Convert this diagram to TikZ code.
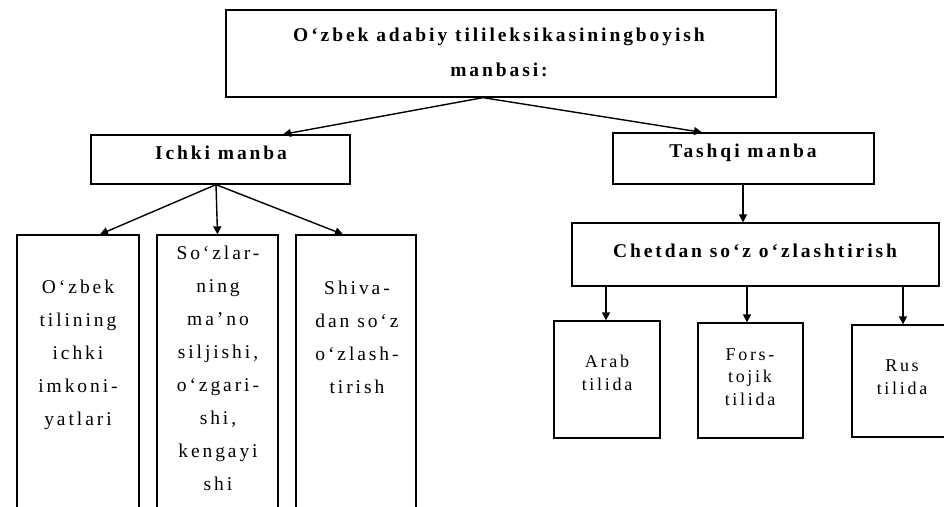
\documentclass[tikz,border=0pt]{standalone}
\usepackage{fontspec}
\setmainfont{Liberation Serif}[LetterSpace=15]
\usetikzlibrary{arrows.meta}
\begin{document}
\begin{tikzpicture}[x=1pt,y=-1pt,
  box/.style={draw,line width=1.3pt,inner sep=0pt},
  conn/.style={line width=1.4pt,-{Triangle[length=8pt,width=8pt]}},
  bigtxt/.style={anchor=base,align=center,inner sep=0pt,font=\fontsize{19.5}{35}\selectfont\bfseries},
  midtxt/.style={anchor=base,align=center,inner sep=0pt,font=\fontsize{19.5}{33}\selectfont},
  smalltxt/.style={anchor=base,align=center,inner sep=0pt,font=\fontsize{18}{22.5}\selectfont}]
\useasboundingbox (0,0) rectangle (944,506);
\clip (0,0) rectangle (944,506);
% boxes
\node[box,minimum width=550pt,minimum height=87pt] (top) at (501,53.5) {};
\node[box,minimum width=259pt,minimum height=49pt] (ichki) at (220.5,159.5) {};
\node[box,minimum width=261pt,minimum height=51pt] (tashqi) at (743.5,158.5) {};
\node[box,minimum width=367pt,minimum height=63pt] (chet) at (755.5,254.5) {};
\node[box,minimum width=122pt,minimum height=295pt] (l1) at (78,382.5) {};
\node[box,minimum width=121pt,minimum height=295pt] (l2) at (217.5,382.5) {};
\node[box,minimum width=120pt,minimum height=295pt] (l3) at (356,382.5) {};
\node[box,minimum width=106pt,minimum height=117pt] (arab) at (607,379.5) {};
\node[box,minimum width=105pt,minimum height=115pt] (fors) at (750.5,380.5) {};
\node[box,minimum width=100pt,minimum height=112pt] (rus) at (902,381) {};
% texts (anchor base = baseline of the last line)
\node[bigtxt] (ttop) at (499,76) {O‘zbek adabiy tilileksikasiningboyish\\manbasi:};
\node[bigtxt] (tichki) at (221,159) {Ichki manba};
\node[bigtxt] (ttashqi) at (743,157) {Tashqi manba};
\node[bigtxt] (tchet) at (755,257) {Chetdan so‘z o‘zlashtirish};
\node[midtxt] (tl1) at (78,425) {O‘zbek\\tilining\\ichki\\imkoni-\\yatlari};
\node[midtxt] (tl2) at (218,490) {So‘zlar-\\ning\\ma’no\\siljishi,\\o‘zgari-\\shi,\\kengayi\\shi};
\node[midtxt] (tl3) at (357,393) {Shiva-\\dan so‘z\\o‘zlash-\\tirish};
\node[smalltxt] (tarab) at (607,390) {Arab\\tilida};
\node[smalltxt] (tfors) at (750,405) {Fors-\\tojik\\tilida};
\node[smalltxt] (trus) at (902,394) {Rus\\tilida};
% connectors
\draw[conn] ([xshift=-18pt]top.south) -- ([xshift=62.5pt]ichki.north);
\draw[conn] ([xshift=-18pt]top.south) -- ([xshift=-41.5pt]tashqi.north);
\draw[conn] ([xshift=-4.5pt]ichki.south) -- ([xshift=22pt]l1.north);
\draw[conn] ([xshift=-4.5pt]ichki.south) -- (l2.north);
\draw[conn] ([xshift=-4.5pt]ichki.south) -- ([xshift=-13pt]l3.north);
\draw[conn] ([xshift=-0.5pt]tashqi.south) -- ([xshift=-12.5pt]chet.north);
\draw[conn] ([xshift=-149.5pt]chet.south) -- ([xshift=-1pt]arab.north);
\draw[conn] ([xshift=-8.5pt]chet.south) -- ([xshift=-3.5pt]fors.north);
\draw[conn] ([xshift=147.5pt]chet.south) -- ([xshift=1pt]rus.north);
\end{tikzpicture}
\end{document}
